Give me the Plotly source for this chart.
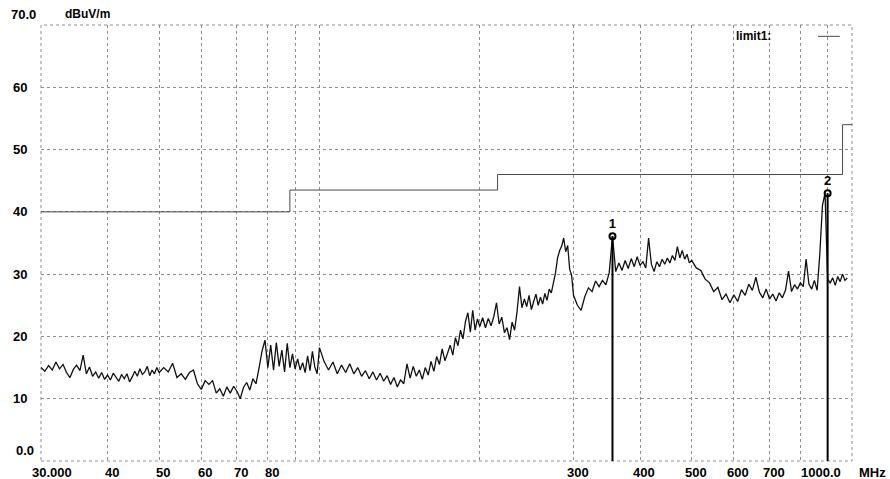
import math
import plotly.graph_objects as go

# ---------------- data ----------------
FREQ_MHZ = [
    30, 30.5, 31, 31.5, 32, 32.5, 33, 33.5, 34, 34.5, 35, 35.5, 36, 36.5, 37, 37.5, 38, 38.5, 39, 39.5, 40,
    40.5, 41, 41.5, 42, 42.5, 43, 43.5, 44, 44.5, 45, 45.5, 46, 46.5, 47, 47.5, 48, 48.5, 49, 49.5, 50,
    51, 52, 53, 54, 55, 56, 57, 58, 59, 60, 61, 62, 63, 64, 65, 66, 67, 68, 69, 70,
    71, 72, 73, 74, 75, 76, 77, 78, 79, 80, 81, 82, 83, 84, 85, 86, 87, 88, 89, 90,
    91, 92, 93, 94, 95, 96, 97, 98, 99, 100,
    102, 104, 106, 108, 110, 112, 114, 116, 118, 120, 122, 124, 126, 128, 130, 132, 134, 136, 138, 140,
    142, 144, 146, 148, 150, 152, 154, 156, 158, 160, 162, 164, 166, 168, 170, 172, 174, 176, 178, 180,
    182, 184, 186, 188, 190, 192, 194, 196, 198, 200,
    202.5, 205, 207.5, 210, 212.5, 215, 217.5, 220, 222.5, 225, 227.5, 230, 232.5, 235, 237.5, 240,
    242.5, 245, 247.5, 250, 252.5, 255, 257.5, 260, 262.5, 265, 267.5, 270, 272.5, 275, 277.5, 280,
    282.5, 285, 287.5, 290, 292.5, 295, 297.5, 300,
    305, 310, 315, 320, 325, 330, 335, 340, 345, 350, 355, 360, 365, 370, 375, 380, 385, 390, 395, 400,
    405, 410, 415, 420, 425, 430, 435, 440, 445, 450, 455, 460, 465, 470, 475, 480, 485, 490, 495, 500,
    510, 520, 530, 540, 550, 560, 570, 580, 590, 600, 610, 620, 630, 640, 650, 660, 670, 680, 690, 700,
    710, 720, 730, 740, 750, 760, 770, 780, 790, 800, 810, 820, 830, 840, 850, 860, 870, 880, 890, 900,
    910, 920, 930, 940, 950, 960, 970, 980,
]
LEVEL_DBUV = [
    15.0, 14.4, 15.3, 14.6, 15.9, 14.8, 15.5, 14.2, 13.4, 14.7, 15.4, 14.5, 17.0, 14.0, 15.1, 13.6, 14.3, 13.3, 14.2, 13.1, 13.8,
    13.0, 14.1, 13.4, 12.8, 13.9, 13.2, 14.0, 12.7, 13.5, 14.4, 13.6, 14.8, 13.9, 14.3, 15.2, 13.7, 14.6, 14.0, 15.0, 14.2,
    15.0, 14.3, 15.7, 13.4, 14.0, 13.1, 14.2, 14.6, 12.4, 11.5, 12.9, 12.3, 12.9, 10.9, 11.6, 10.4, 11.9, 10.9, 12.0, 11.2,
    10.0, 11.8, 12.6, 11.4, 13.2, 12.4, 14.9, 17.6, 19.4, 15.0, 18.6, 14.6, 19.0, 15.2, 17.8, 14.3, 18.9, 15.0, 17.2, 14.8,
    16.4, 14.6, 15.8, 14.2, 16.9, 14.5, 17.6, 15.1, 14.0, 18.2,
    16.0, 14.6, 15.9, 14.0, 15.4, 14.2, 15.6, 14.0, 15.0, 13.6, 14.5, 13.2, 14.3, 13.0, 14.1, 12.8, 13.7, 12.3, 13.4, 11.9,
    13.0, 12.4, 15.6, 13.3, 15.2, 13.6, 14.6, 13.1, 15.0, 13.8, 16.0, 14.4, 16.8, 15.5, 18.0, 16.1, 17.3, 18.6, 17.0, 19.8,
    18.5, 21.0, 19.6, 22.4, 23.8, 20.7, 24.2, 21.0, 22.8, 21.6,
    23.0, 21.4, 22.9, 21.7, 23.2, 25.4, 22.0, 23.1, 20.6, 21.4, 19.5, 22.3, 21.0, 24.0, 28.0, 24.6,
    26.0, 24.8, 26.6, 24.3, 25.6, 26.8, 25.0, 26.3, 25.2, 26.9, 25.8, 27.6, 27.0, 28.7, 30.2, 32.6,
    33.8, 34.5, 35.8, 33.6, 34.6, 30.8, 29.8, 26.6,
    25.0, 24.2, 26.4, 27.8, 27.2, 28.9, 28.0, 29.0, 28.3, 30.2, 36.1, 30.4, 31.8, 30.6, 32.2, 30.9, 32.5, 31.2, 32.8, 31.4,
    32.0, 31.0, 35.8, 31.6, 30.4, 32.0, 31.2, 32.4, 31.6, 32.6, 31.8, 33.0, 32.2, 34.4, 32.6, 33.8, 32.4, 33.2, 31.8, 32.2,
    31.0, 30.6, 29.2, 28.6, 27.2, 27.9, 25.9, 26.8, 25.4, 26.7, 25.6, 27.5, 26.6, 28.4, 27.4, 29.5, 27.1, 26.2, 27.6, 26.0,
    26.8, 25.7, 27.0, 26.2, 27.4, 30.5, 27.2, 28.3, 27.6, 28.6, 28.0, 32.4, 28.4, 27.6, 29.0, 27.4, 33.2, 41.0, 43.0, 29.2,
    28.6, 29.4, 28.2, 29.6, 28.8, 30.0, 29.0, 29.4,
]

LIMIT_F = [30, 88, 216, 960, 1000]
LIMIT_DB = [40, 43.5, 46, 54, 54]

MARKER_ID = ["1", "2"]
MARKER_F = [355, 900]
MARKER_DB = [36.1, 43.0]

X_GRID = [40, 50, 60, 70, 80, 90, 100, 200, 300, 400, 500, 600, 700, 800, 900]
X_LABEL_VALS = [40, 50, 60, 70, 80, 300, 400, 500, 600, 700]
Y_GRID = [10, 20, 30, 40, 50, 60]

FONT = "Liberation Sans"
GRID = "#8e8e8e"

fig = go.Figure()

# limit line
fig.add_trace(go.Scatter(x=LIMIT_F, y=LIMIT_DB, mode="lines", line=dict(color="#4a4a4a", width=1, shape="hv"),
                         hoverinfo="skip", showlegend=False))
# measurement trace
fig.add_trace(go.Scatter(x=FREQ_MHZ, y=LEVEL_DBUV, mode="lines", line=dict(color="#111111", width=1.3),
                         showlegend=False))
# marker vertical lines
for f, v in zip(MARKER_F, MARKER_DB):
    fig.add_trace(go.Scatter(x=[f, f], y=[0, v], mode="lines", line=dict(color="#000000", width=2),
                             hoverinfo="skip", showlegend=False))
# marker symbols and ids
fig.add_trace(go.Scatter(x=MARKER_F, y=MARKER_DB, mode="markers+text", text=MARKER_ID,
                         textposition="top center",
                         textfont=dict(family=FONT, size=13, color="#000000", weight="bold"),
                         marker=dict(symbol="circle-open", size=6, color="#000000", line=dict(width=2)),
                         showlegend=False))

annotations = []
lab_font = dict(family=FONT, size=13, color="#000000", weight="bold")
# annotations on a log axis take log10 positions
for v in X_LABEL_VALS:
    annotations.append(dict(x=math.log10(v), xref="x", y=0, yref="paper", yanchor="top", xanchor="center",
                            yshift=-2, xshift=4, text=str(v), showarrow=False, font=lab_font))
annotations.append(dict(x=math.log10(30), xref="x", y=0, yref="paper", yanchor="top", xanchor="left",
                        yshift=-2, xshift=-11, text="30.000", showarrow=False, font=lab_font))
annotations.append(dict(x=math.log10(1000), xref="x", y=0, yref="paper", yanchor="top", xanchor="right",
                        yshift=-2, xshift=-9, text="1000.0", showarrow=False, font=lab_font))
annotations.append(dict(x=math.log10(1000), xref="x", y=0, yref="paper", yanchor="top", xanchor="left",
                        yshift=-2, xshift=5, text="MHz", showarrow=False, font=lab_font))
for v in Y_GRID:
    annotations.append(dict(x=0, xref="paper", y=v, yref="y", xanchor="left", yanchor="middle",
                            xshift=-30, text=str(v), showarrow=False, font=lab_font))
annotations.append(dict(x=0, xref="paper", y=0, yref="y", xanchor="left", yanchor="middle",
                        xshift=-27, yshift=11, text="0.0", showarrow=False, font=lab_font))
annotations.append(dict(x=0, xref="paper", y=70, yref="y", xanchor="left", yanchor="middle",
                        xshift=-32, yshift=11, text="70.0", showarrow=False, font=lab_font))
annotations.append(dict(x=0, xref="paper", y=70, yref="y", xanchor="left", yanchor="middle",
                        xshift=22, yshift=11, text="dBuV/m", showarrow=False,
                        font=dict(family=FONT, size=12, color="#000000", weight="bold")))
annotations.append(dict(x=0.8545, xref="paper", y=0.974, yref="paper", xanchor="left", yanchor="middle",
                        text="limit1:", showarrow=False,
                        font=dict(family=FONT, size=12, color="#000000", weight="bold")))

shapes = [
    # legend box background (hides the grid there)
    dict(type="rect", xref="paper", yref="paper", x0=0.818, x1=0.996, y0=0.893, y1=0.995,
         fillcolor="white", line=dict(width=0), layer="below"),
    # dotted frame
    dict(type="rect", xref="paper", yref="paper", x0=0, x1=1, y0=0, y1=1,
         line=dict(color=GRID, width=1, dash="dot"), layer="below"),
    # legend sample line
    dict(type="line", xref="paper", yref="paper", x0=0.958, x1=0.985, y0=0.974, y1=0.974,
         line=dict(color="#4a4a4a", width=1)),
]

fig.update_layout(
    width=890, height=479,
    margin=dict(l=41, r=38, t=25, b=18),
    paper_bgcolor="white", plot_bgcolor="white",
    annotations=annotations, shapes=shapes,
    xaxis=dict(type="log", range=[1.477121, 3.0], tickvals=X_GRID, showticklabels=False,
               showgrid=True, gridcolor=GRID, griddash="dot", gridwidth=1,
               zeroline=False, showline=False, ticks=""),
    yaxis=dict(range=[0, 70], tickvals=Y_GRID, showticklabels=False,
               showgrid=True, gridcolor=GRID, griddash="dot", gridwidth=1,
               zeroline=False, showline=False, ticks=""),
    font=dict(family=FONT),
)

# remove the default page margin so the 890x479 figure fills the window exactly
fig.write_html("out.html", config={"displayModeBar": False},
               post_script="document.body.style.margin='0';document.body.style.overflow='hidden';")
